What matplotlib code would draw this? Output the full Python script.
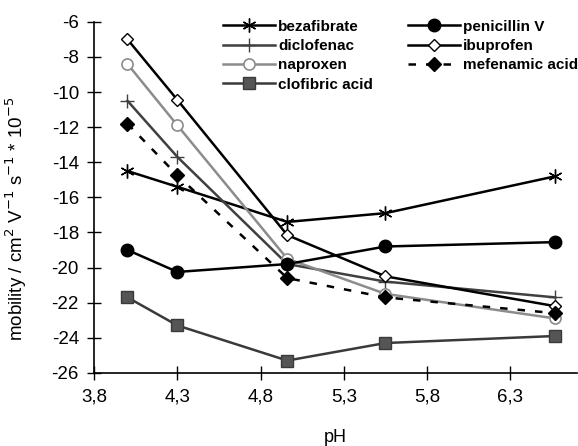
import matplotlib
matplotlib.use('Agg')
import matplotlib.pyplot as plt
import numpy as np

plt.rcParams['font.family'] = ['Liberation Sans', 'DejaVu Sans']
plt.rcParams['axes.unicode_minus'] = False

ph = [4.0, 4.3, 4.96, 5.55, 6.57]

bezafibrate = [-14.5, -15.4, -17.4, -16.9, -14.8]
diclofenac = [-10.5, -13.7, -19.8, -20.8, -21.7]
naproxen = [-8.4, -11.9, -19.5, -21.5, -22.9]
clofibric = [-21.7, -23.3, -25.3, -24.3, -23.9]
penicillin = [-19.0, -20.25, -19.8, -18.8, -18.55]
ibuprofen = [-7.0, -10.45, -18.15, -20.5, -22.2]
mefenamic = [-11.8, -14.75, -20.6, -21.7, -22.6]

xticks = [3.8, 4.3, 4.8, 5.3, 5.8, 6.3]
xticklabels = ['3,8', '4,3', '4,8', '5,3', '5,8', '6,3']
yticks = list(range(-26, -5, 2))

fig = plt.figure(figsize=(5.78, 4.46), dpi=100)
ax = fig.add_axes([0.163, 0.164, 0.835, 0.787])

# first legend column
l1 = ax.plot(ph, bezafibrate, color='black', lw=1.8, marker=(6, 2, 0), ms=10, mew=1.0,
             label='bezafibrate')
l2 = ax.plot(ph, diclofenac, color='#404040', lw=1.8, marker='+', ms=10, mew=1.0,
             label='diclofenac')
l3 = ax.plot(ph, naproxen, color='#8c8c8c', lw=1.8, marker='o', ms=8, mfc='white',
             mec='#8c8c8c', mew=1.2, label='naproxen')
l4 = ax.plot(ph, clofibric, color='#3a3a3a', lw=1.8, marker='s', ms=8, mfc='#555555',
             mec='#3a3a3a', label='clofibric acid')
# second legend column
l5 = ax.plot(ph, penicillin, color='black', lw=1.8, marker='o', ms=9, label='penicillin V')
l6 = ax.plot(ph, ibuprofen, color='black', lw=1.8, marker='D', ms=6, mfc='white',
             mec='black', mew=1.0, label='ibuprofen')
l7 = ax.plot(ph, mefenamic, color='black', lw=1.8, ls=(0, (3, 4)), marker='D', ms=7,
             label='mefenamic acid')

ax.set_xlim(3.8, 6.7)
ax.set_ylim(-26, -6)
ax.set_xticks(xticks)
ax.set_xticklabels(xticklabels)
ax.set_yticks(yticks)
ax.tick_params(direction='inout', length=10, width=1, labelsize=13.5, pad=6)
ax.spines['top'].set_visible(False)
ax.spines['right'].set_visible(False)
for s in ['left', 'bottom']:
    ax.spines[s].set_linewidth(1.2)

ax.set_xlabel('pH', fontsize=13)
ax.xaxis.set_label_coords(0.5, -0.16)
ax.set_ylabel('mobility / cm$^2$ V$^{-1}$ s$^{-1}$ * 10$^{-5}$', fontsize=13.5)
ax.yaxis.set_label_coords(-0.135, 0.44)

leg_kw = dict(loc='upper left', bbox_transform=fig.transFigure, frameon=False,
              handlelength=3.4, handletextpad=0.2, labelspacing=0.35,
              prop={'weight': 'bold', 'size': 11})
leg1 = ax.legend(handles=l1 + l2 + l3 + l4, bbox_to_anchor=(0.362, 0.987), **leg_kw)
ax.add_artist(leg1)
ax.legend(handles=l5 + l6 + l7, bbox_to_anchor=(0.682, 0.987), **leg_kw)

fig.savefig('out.png', dpi=100)
